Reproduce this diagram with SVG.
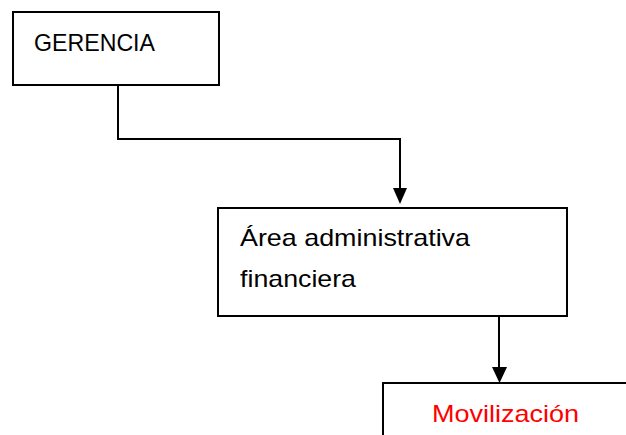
<svg xmlns="http://www.w3.org/2000/svg" width="626" height="435" viewBox="0 0 626 435">
<style>
.box{fill:#fff;stroke:#000;stroke-width:2}
.lbl{font-family:"Liberation Sans",Arial,sans-serif;font-size:24px;fill:#000}
.red{fill:#ff0000}
.conn{fill:none;stroke:#000;stroke-width:2}
</style>
<defs>
<marker id="arr" markerUnits="userSpaceOnUse" markerWidth="16" markerHeight="16" refX="7" refY="15" orient="auto" viewBox="0 0 14 16">
<path d="M0,0 L14,0 L7,15 Z" fill="#000"/>
</marker>
</defs>
<rect width="626" height="435" fill="#fff"/>
<g id="connectors">
<path class="conn" d="M118,85 V139 H400 V188"/>
<path d="M393,188 L407,188 L400,204 Z" fill="#000"/>
<path class="conn" d="M499,316 V367"/>
<path d="M492,367 L507,367 L499.5,383 Z" fill="#000"/>
</g>
<g id="gerencia">
<rect class="box" x="13" y="12" width="206" height="73"/>
<text class="lbl" x="34" y="51" textLength="121" lengthAdjust="spacingAndGlyphs">GERENCIA</text>
</g>
<g id="area">
<rect class="box" x="218" y="208" width="349" height="108"/>
<text class="lbl" x="240" y="246" textLength="230" lengthAdjust="spacingAndGlyphs">Área administrativa</text>
<text class="lbl" x="240" y="287" textLength="116" lengthAdjust="spacingAndGlyphs">financiera</text>
</g>
<g id="movilizacion">
<rect class="box" x="383" y="383" width="260" height="70"/>
<text class="lbl red" x="432" y="422" textLength="147" lengthAdjust="spacingAndGlyphs">Movilización</text>
</g>
</svg>
